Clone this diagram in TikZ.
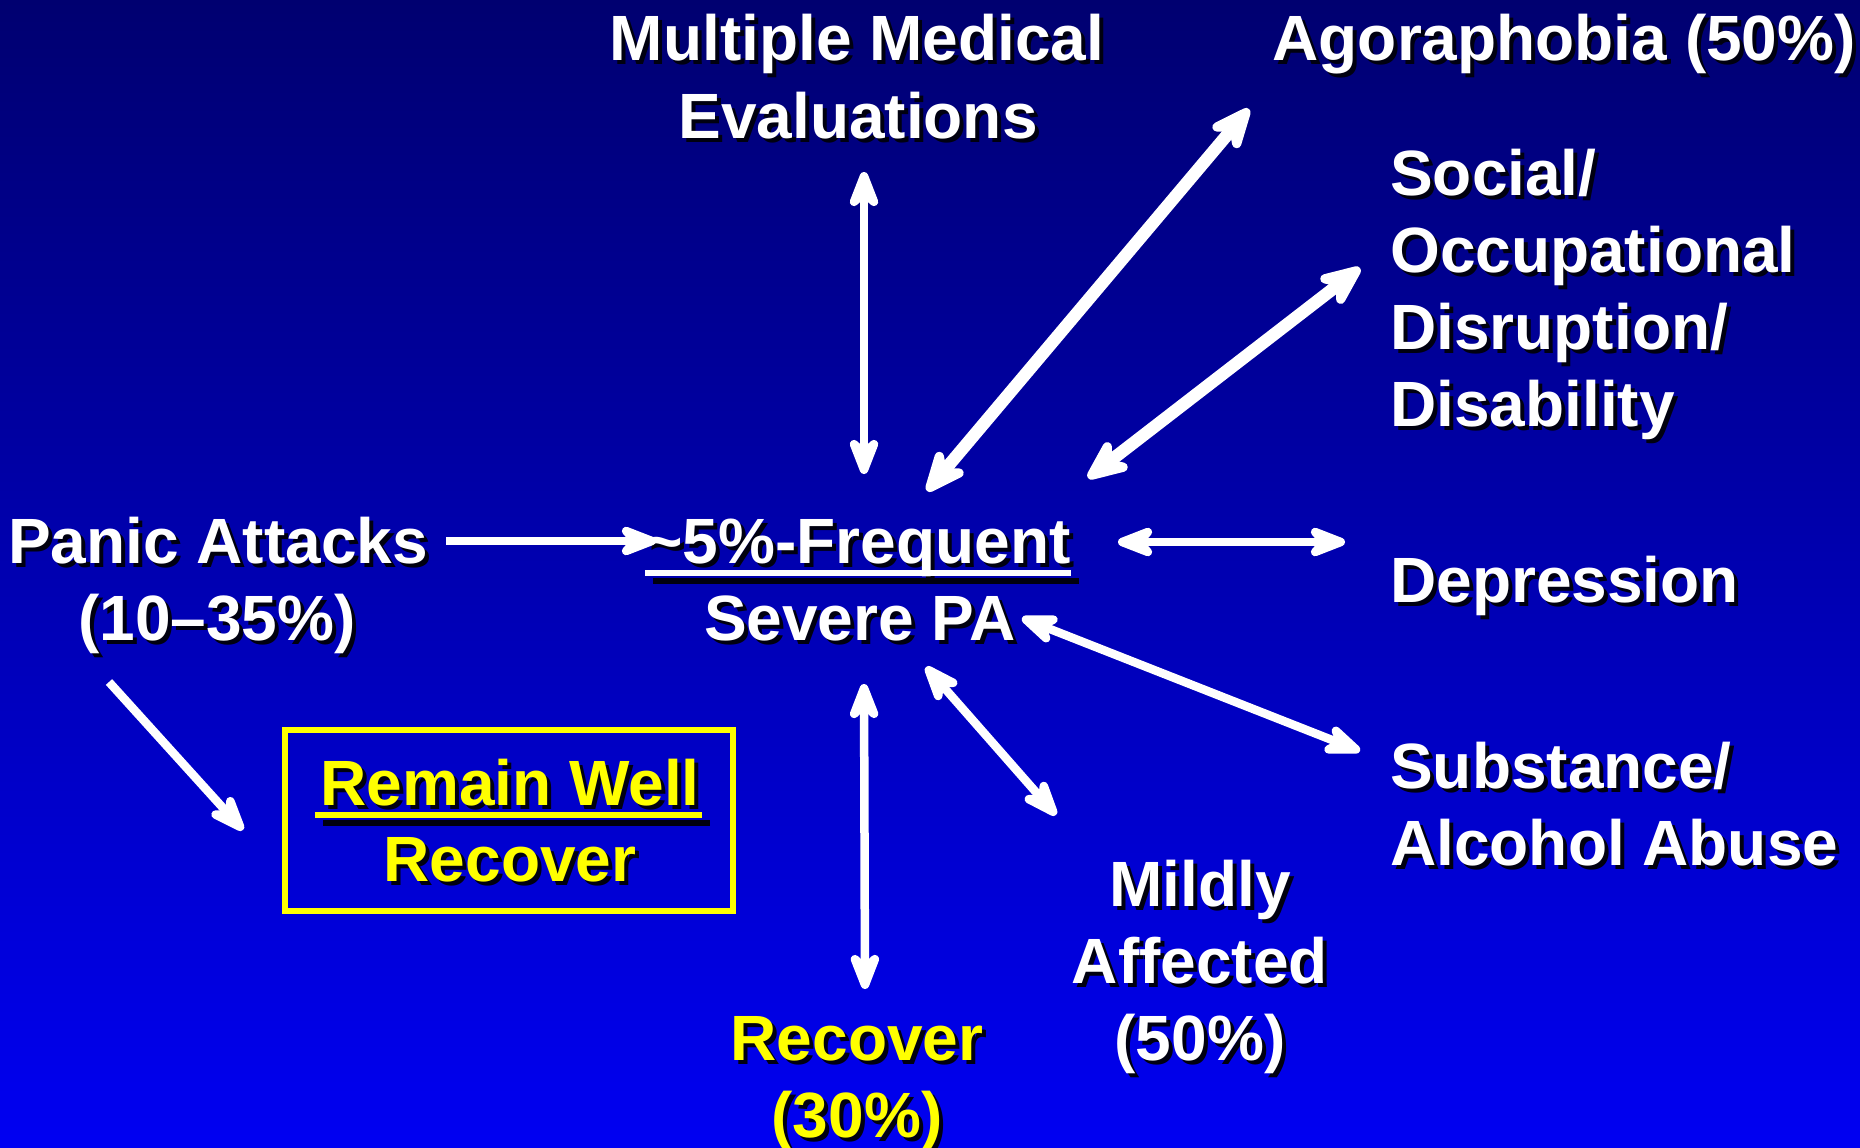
\documentclass[tikz,border=0pt]{standalone}
\usepackage{fontspec}
\setmainfont{Liberation Sans}
\usetikzlibrary{arrows.meta}
\definecolor{bgtop}{HTML}{000070}
\definecolor{bgmid}{HTML}{0000C8}
\definecolor{bgbot}{HTML}{0000F2}
\definecolor{yel}{HTML}{FFFF00}
\definecolor{shad}{HTML}{000010}
% #1 options, #2 name, #3 position, #4 text, #5 colour
\newcommand\stext[5][]{%
  \node[txt,#1,text=shad,xshift=4pt,yshift=-4pt] (#2s) at #3 {#4};
  \node[txt,#1,text=#5] (#2) at #3 {#4};}
\begin{document}
\begin{tikzpicture}[x=1pt,y=-1pt,
  txt/.style={font=\bfseries\fontsize{64}{77}\selectfont, inner sep=0pt, anchor=base},
  lft/.style={anchor=base west},
  conn/.style={draw=white, line width=8.5pt},
  thickconn/.style={draw=white, line width=12.5pt},
  onehead/.style={conn, -{Stealth[length=52pt,width=40pt,inset=18pt,round]}},
  twohead/.style={conn, {Stealth[length=52pt,width=40pt,inset=18pt,round]}-{Stealth[length=52pt,width=40pt,inset=18pt,round]}},
  twothick/.style={thickconn, {Stealth[length=56pt,width=48pt,inset=19pt,round]}-{Stealth[length=56pt,width=48pt,inset=19pt,round]}},
  uline/.style={line width=6pt}
]
\useasboundingbox (0,0) rectangle (1860,1148);
\shade[top color=bgtop, middle color=bgmid, bottom color=bgbot] (0,0) rectangle (1860,1148);

% texts
\stext{mm1}{(857,60)}{Multiple Medical}{white}
\stext{mm2}{(858,138)}{Evaluations}{white}
\stext[anchor=base east]{ago}{(1856,60)}{Agoraphobia (50\%)}{white}
\stext[lft]{soc1}{(1390,195)}{Social/}{white}
\stext[lft]{soc2}{(1390,272)}{Occupational}{white}
\stext[lft]{soc3}{(1390,349)}{Disruption/}{white}
\stext[lft]{soc4}{(1390,426)}{Disability}{white}
\stext[lft]{dep}{(1390,602)}{Depression}{white}
\stext[lft]{sub1}{(1390,788)}{Substance/}{white}
\stext[lft]{sub2}{(1390,865)}{Alcohol Abuse}{white}
\stext{mil1}{(1200,906)}{Mildly}{white}
\stext{mil2}{(1200,983)}{Affected}{white}
\stext{mil3}{(1200,1060)}{(50\%)}{white}
\stext{rec1}{(857,1060)}{Recover}{yel}
\stext{rec2}{(857,1137)}{(30\%)}{yel}
\stext{pan1}{(218,563)}{Panic Attacks}{white}
\stext{pan2}{(217,640)}{(10–35\%)}{white}
\stext{freq}{(858,563)}{\textasciitilde5\%-Frequent}{white}
\stext{sev}{(860,640)}{Severe PA}{white}
\stext{rw}{(510,805)}{Remain Well}{yel}
\stext{rwr}{(510,881)}{Recover}{yel}

% underlines
\draw[uline, shad] ([xshift=4pt,yshift=-14pt]freqs.base west) -- ([xshift=4pt,yshift=-14pt]freqs.base east);
\draw[uline, white] ([yshift=-10pt]freq.base west) -- ([yshift=-10pt]freq.base east);
\draw[uline, shad] ([xshift=-1pt,yshift=-14pt]rws.base west) -- ([xshift=6pt,yshift=-14pt]rws.base east);
\draw[uline, yel] ([xshift=-5pt,yshift=-10pt]rw.base west) -- ([xshift=2pt,yshift=-10pt]rw.base east);

% box
\node[draw=yel, line width=6pt, minimum width=448pt, minimum height=181pt, inner sep=0pt] (box) at (509,820.5) {};

% connector end points
\coordinate (p2f-a) at (446,541);  \coordinate (p2f-b) at (656,541);
\coordinate (p2r-a) at (109,682);  \coordinate (p2r-b) at (243,830);
\coordinate (mme-a) at (864,474);  \coordinate (mme-b) at (864,172);
\coordinate (ago-a) at (927,491);  \coordinate (ago-b) at (1249,109);
\coordinate (soc-a) at (1088,478); \coordinate (soc-b) at (1360,268);
\coordinate (dep-a) at (1118,542); \coordinate (dep-b) at (1345,542);
\coordinate (sub-a) at (1022,618); \coordinate (sub-b) at (1360,751);
\coordinate (mil-a) at (926,667);  \coordinate (mil-b) at (1056,815);
\coordinate (rec-a) at (864,684);  \coordinate (rec-b) at (865,989);

% connectors
\draw[onehead] (p2f-a) -- (p2f-b);
\draw[onehead] (p2r-a) -- (p2r-b);
\draw[twohead] (mme-a) -- (mme-b);
\draw[twothick] (ago-a) -- (ago-b);
\draw[twothick] (soc-a) -- (soc-b);
\draw[twohead] (dep-a) -- (dep-b);
\draw[twohead] (sub-a) -- (sub-b);
\draw[twohead] (mil-a) -- (mil-b);
\draw[twohead] (rec-a) -- (rec-b);
\end{tikzpicture}
\end{document}
